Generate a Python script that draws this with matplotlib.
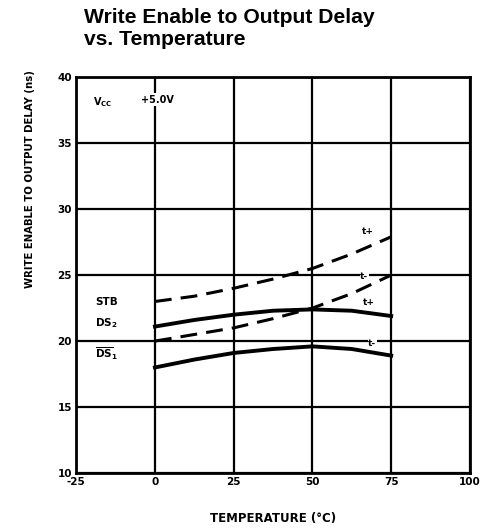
import numpy as np
import matplotlib.pyplot as plt

temp = [0, 12.5, 25, 37.5, 50, 62.5, 75]
stb_hi = [23.0, 23.4, 24.0, 24.7, 25.5, 26.6, 27.9]   # dashed, upper
stb_lo = [20.0, 20.5, 21.0, 21.7, 22.5, 23.6, 25.0]   # dashed, lower
ds2 = [21.1, 21.6, 22.0, 22.3, 22.4, 22.3, 21.9]      # solid, upper
ds1 = [18.0, 18.6, 19.1, 19.4, 19.6, 19.4, 18.9]      # solid, lower

xticks = [-25, 0, 25, 50, 75, 100]
yticks = [10, 15, 20, 25, 30, 35, 40]

fig = plt.figure(figsize=(4.82, 5.28), dpi=100)
ax = fig.add_axes([0.158, 0.104, 0.817, 0.75])

ax.plot(temp, stb_hi, color="black", lw=2.2, ls=(0, (5.5, 3)))
ax.plot(temp, stb_lo, color="black", lw=2.2, ls=(0, (5.5, 3)))
ax.plot(temp, ds2, color="black", lw=2.8)
ax.plot(temp, ds1, color="black", lw=2.8)

ax.set_xlim(-25, 100)
ax.set_ylim(10, 40)
ax.set_xticks(xticks)
ax.set_yticks(yticks)
ax.set_xticklabels([str(t) for t in xticks], fontsize=7.5, fontweight="bold")
ax.set_yticklabels([str(t) for t in yticks], fontsize=7.5, fontweight="bold")
ax.tick_params(length=0, pad=3)
ax.grid(True, color="black", lw=1.6)
ax.set_axisbelow(True)
for s in ax.spines.values():
    s.set_linewidth(2)

fig.text(0.567, 0.018, "TEMPERATURE (°C)", fontsize=8.5, fontweight="bold",
         ha="center", va="center")
fig.text(0.062, 0.66, "WRITE ENABLE TO OUTPUT DELAY (ns)", fontsize=7.3,
         fontweight="bold", ha="center", va="center", rotation=90)

lbl = dict(fontsize=6.5, fontweight="bold", ha="center", va="center",
           bbox=dict(facecolor="white", edgecolor="none", pad=0.5))
ax.text(67.5, 28.3, "t+", **lbl)
ax.text(66.5, 24.9, "t-", **lbl)
ax.text(68, 22.9, "t+", **lbl)
ax.text(69, 19.8, "t-", **lbl)

ax.text(-19.5, 38.1, "V$_{\\mathregular{CC}}$", fontsize=7, fontweight="bold",
        va="center", bbox=dict(facecolor="white", edgecolor="none", pad=1))
ax.text(-4.5, 38.3, "+5.0V", fontsize=7, fontweight="bold", va="center",
        bbox=dict(facecolor="white", edgecolor="none", pad=1))
ax.text(-19, 22.95, "STB", fontsize=7.5, fontweight="bold", va="center")
ax.text(-19, 21.4, "DS$_\\mathregular{2}$", fontsize=7.5, fontweight="bold", va="center")
ax.text(-19, 19.0, "$\\overline{\\mathregular{DS}}_\\mathregular{1}$", fontsize=7.5,
        fontweight="bold", va="center",
        bbox=dict(facecolor="white", edgecolor="none", pad=0.5))

fig.text(0.175, 0.985, "Write Enable to Output Delay\nvs. Temperature",
         fontsize=15.2, fontweight="bold", va="top", ha="left",
         family="Liberation Sans", linespacing=1.2)

fig.savefig("out.png", dpi=100)
